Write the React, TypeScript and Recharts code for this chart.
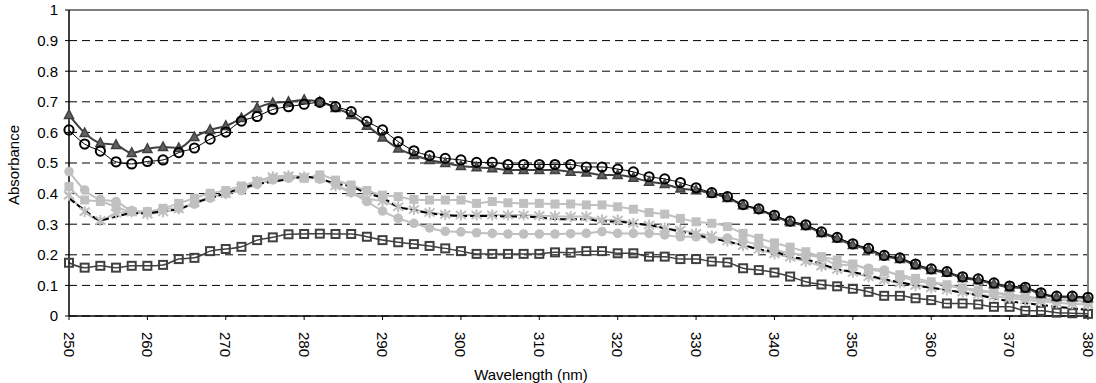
import { CartesianGrid, Line, LineChart, ReferenceLine, XAxis, YAxis } from "recharts";

const wavelengths = [
  250, 252, 254, 256, 258, 260, 262, 264, 266, 268, 270, 272, 274, 276, 278, 280, 282, 284, 286, 288, 290, 292,
  294, 296, 298, 300, 302, 304, 306, 308, 310, 312, 314, 316, 318, 320, 322, 324, 326, 328, 330, 332, 334, 336,
  338, 340, 342, 344, 346, 348, 350, 352, 354, 356, 358, 360, 362, 364, 366, 368, 370, 372, 374, 376, 378, 380,
];

// black open circles
const openCircles = [
  0.608, 0.562, 0.539, 0.504, 0.497, 0.505, 0.51, 0.534, 0.549, 0.578,
  0.601, 0.637, 0.652, 0.675, 0.684, 0.692, 0.698, 0.684, 0.668, 0.636,
  0.608, 0.57, 0.54, 0.524, 0.515, 0.51, 0.502, 0.502, 0.495, 0.495,
  0.495, 0.495, 0.495, 0.487, 0.487, 0.48, 0.471, 0.455, 0.448, 0.436,
  0.419, 0.403, 0.39, 0.364, 0.35, 0.329, 0.31, 0.298, 0.275, 0.257,
  0.236, 0.221, 0.198, 0.19, 0.17, 0.154, 0.145, 0.128, 0.121, 0.108,
  0.098, 0.094, 0.076, 0.065, 0.065, 0.061,
];

// dark grey triangles
const triangles = [
  0.657, 0.598, 0.565, 0.559, 0.533, 0.546, 0.552, 0.549, 0.585, 0.608,
  0.621, 0.647, 0.68, 0.696, 0.7, 0.706, 0.7, 0.68, 0.657, 0.622,
  0.583, 0.547, 0.526, 0.51, 0.5, 0.49, 0.486, 0.483, 0.477, 0.477,
  0.477, 0.477, 0.471, 0.469, 0.461, 0.461, 0.452, 0.439, 0.431, 0.417,
  0.411, 0.4, 0.386, 0.362, 0.348, 0.326, 0.306, 0.294, 0.271, 0.253,
  0.232, 0.217, 0.195, 0.186, 0.166, 0.15, 0.141, 0.124, 0.117, 0.104,
  0.094, 0.09, 0.072, 0.062, 0.061, 0.058,
];

// light grey filled circles
const greyCircles = [
  0.472, 0.412, 0.381, 0.374, 0.345, 0.341, 0.35, 0.352, 0.366, 0.385,
  0.4, 0.41, 0.43, 0.445, 0.45, 0.452, 0.447, 0.43, 0.403, 0.374,
  0.343, 0.319, 0.303, 0.288, 0.277, 0.275, 0.272, 0.27, 0.268, 0.268,
  0.268, 0.268, 0.269, 0.27, 0.276, 0.27, 0.27, 0.27, 0.265, 0.259,
  0.259, 0.252, 0.255, 0.245, 0.232, 0.216, 0.205, 0.199, 0.19, 0.168,
  0.166, 0.156, 0.15, 0.13, 0.115, 0.107, 0.1, 0.09, 0.08, 0.076,
  0.065, 0.06, 0.055, 0.052, 0.052, 0.047,
];

// light grey filled squares
const greySquares = [
  0.423, 0.379, 0.374, 0.357, 0.341, 0.341, 0.352, 0.368, 0.385, 0.401,
  0.41, 0.425, 0.44, 0.45, 0.455, 0.45, 0.461, 0.444, 0.428, 0.41,
  0.395, 0.39, 0.381, 0.379, 0.379, 0.379, 0.368, 0.374, 0.37, 0.368,
  0.368, 0.366, 0.366, 0.363, 0.363, 0.357, 0.349, 0.338, 0.333, 0.319,
  0.308, 0.303, 0.292, 0.27, 0.254, 0.239, 0.225, 0.21, 0.194, 0.183,
  0.17, 0.152, 0.145, 0.135, 0.123, 0.112, 0.102, 0.092, 0.085, 0.078,
  0.07, 0.064, 0.058, 0.053, 0.05, 0.045,
];

// light grey asterisks
const greyStars = [
  0.395, 0.341, 0.312, 0.336, 0.34, 0.333, 0.34, 0.35, 0.37, 0.39,
  0.4, 0.42, 0.44, 0.455, 0.458, 0.455, 0.45, 0.425, 0.405, 0.384,
  0.375, 0.357, 0.348, 0.338, 0.332, 0.33, 0.33, 0.33, 0.33, 0.33,
  0.328, 0.326, 0.325, 0.325, 0.314, 0.314, 0.303, 0.297, 0.287, 0.281,
  0.27, 0.262, 0.245, 0.23, 0.218, 0.203, 0.192, 0.178, 0.163, 0.152,
  0.142, 0.128, 0.118, 0.108, 0.1, 0.092, 0.085, 0.078, 0.07, 0.065,
  0.058, 0.052, 0.048, 0.043, 0.04, 0.038,
];

// black dashed line, no markers
const dashed = [
  0.385, 0.346, 0.314, 0.325, 0.335, 0.336, 0.343, 0.349, 0.37, 0.385,
  0.401, 0.417, 0.431, 0.439, 0.447, 0.455, 0.448, 0.433, 0.423, 0.401,
  0.386, 0.357, 0.346, 0.336, 0.33, 0.327, 0.327, 0.327, 0.325, 0.325,
  0.322, 0.317, 0.316, 0.316, 0.309, 0.308, 0.303, 0.297, 0.287, 0.276,
  0.265, 0.254, 0.243, 0.232, 0.218, 0.21, 0.194, 0.185, 0.17, 0.153,
  0.144, 0.132, 0.12, 0.11, 0.1, 0.092, 0.085, 0.076, 0.068, 0.058,
  0.048, 0.042, 0.036, 0.03, 0.025, 0.02,
];

// dark grey open squares
const openSquares = [
  0.174, 0.158, 0.164, 0.158, 0.164, 0.164, 0.167, 0.186, 0.19, 0.212,
  0.219, 0.226, 0.248, 0.257, 0.267, 0.268, 0.269, 0.268, 0.268, 0.259,
  0.248, 0.241, 0.235, 0.229, 0.221, 0.212, 0.203, 0.203, 0.203, 0.203,
  0.203, 0.208, 0.207, 0.212, 0.212, 0.205, 0.205, 0.194, 0.194, 0.186,
  0.186, 0.178, 0.175, 0.156, 0.15, 0.142, 0.129, 0.112, 0.103, 0.097,
  0.089, 0.079, 0.066, 0.066, 0.058, 0.052, 0.041, 0.041, 0.038, 0.03,
  0.03, 0.017, 0.017, 0.011, 0.009, 0.007,
];

const xTicks = [250, 260, 270, 280, 290, 300, 310, 320, 330, 340, 350, 360, 370, 380];
const yTicks = [0, 0.1, 0.2, 0.3, 0.4, 0.5, 0.6, 0.7, 0.8, 0.9, 1];

const data = wavelengths.map((w, i) => ({
  w,
  openCircles: openCircles[i],
  triangles: triangles[i],
  greyCircles: greyCircles[i],
  greySquares: greySquares[i],
  greyStars: greyStars[i],
  dashed: dashed[i],
  openSquares: openSquares[i],
}));

const FONT = "'Liberation Sans', Arial, sans-serif";
const DARK = "#404040";
const GREY = "#c0c0c0";

const openCircleDot = (p: any) => (
  <circle key={p.index} cx={p.cx} cy={p.cy} r={4.6} fill="none" stroke="#000" strokeWidth={2} />
);
const triangleDot = (p: any) => (
  <polygon
    key={p.index}
    points={`${p.cx},${p.cy - 5} ${p.cx + 4.5},${p.cy + 3.5} ${p.cx - 4.5},${p.cy + 3.5}`}
    fill="#606060"
    stroke={DARK}
    strokeWidth={1.5}
  />
);
const greyCircleDot = (p: any) => <circle key={p.index} cx={p.cx} cy={p.cy} r={4.8} fill={GREY} />;
const greySquareDot = (p: any) => (
  <rect key={p.index} x={p.cx - 4.5} y={p.cy - 4.5} width={9} height={9} fill={GREY} />
);
const starDot = (p: any) => (
  <g key={p.index} stroke={GREY} strokeWidth={2}>
    <line x1={p.cx} y1={p.cy - 5.5} x2={p.cx} y2={p.cy + 5.5} />
    <line x1={p.cx - 5} y1={p.cy - 4} x2={p.cx + 5} y2={p.cy + 4} />
    <line x1={p.cx - 5} y1={p.cy + 4} x2={p.cx + 5} y2={p.cy - 4} />
  </g>
);
const openSquareDot = (p: any) => (
  <rect key={p.index} x={p.cx - 4} y={p.cy - 4} width={8} height={8} fill="none" stroke={DARK} strokeWidth={2} />
);

const XTick = ({ x, y, payload }: any) => (
  <text
    transform={`translate(${x},${y + 10}) rotate(90)`}
    textAnchor="start"
    dominantBaseline="central"
    fontFamily={FONT}
    fontSize={15}
    fill="#000"
  >
    {payload.value}
  </text>
);

export default function App() {
  return (
    <div style={{ position: "absolute", left: 0, top: 0, background: "#fff" }}>
      <LineChart width={1096} height={383} data={data} margin={{ top: 10, right: 8, bottom: 0, left: 0 }}>
        <CartesianGrid vertical={false} stroke="#000" strokeDasharray="8 5" />
        <XAxis
          dataKey="w"
          type="number"
          domain={[250, 380]}
          ticks={xTicks}
          interval={0}
          height={67}
          tick={<XTick />}
          tickSize={4}
          tickLine={{ stroke: "#000" }}
          axisLine={{ stroke: "#000", strokeWidth: 1.5 }}
          label={{
            content: () => (
              <text x={531} y={380} textAnchor="middle" fontFamily={FONT} fontSize={15} fill="#000">
                Wavelength (nm)
              </text>
            ),
          }}
        />
        <YAxis
          type="number"
          domain={[0, 1]}
          ticks={yTicks}
          interval={0}
          width={69}
          tickSize={4}
          tickMargin={7}
          tick={{ fill: "#000", fontSize: 15, fontFamily: FONT }}
          tickLine={{ stroke: "#000" }}
          axisLine={{ stroke: "#000", strokeWidth: 1.5 }}
          label={{
            content: () => (
              <text
                x={13}
                y={165}
                transform="rotate(-90 13 165)"
                textAnchor="middle"
                dominantBaseline="central"
                fontFamily={FONT}
                fontSize={15}
                fill="#000"
              >
                Absorbance
              </text>
            ),
          }}
        />
        <ReferenceLine y={1} stroke="#808080" strokeWidth={2} />
        <ReferenceLine x={380} stroke="#808080" strokeWidth={2} />
        <Line type="monotone" dataKey="openSquares" stroke={DARK} strokeWidth={1.5} dot={openSquareDot} activeDot={false} isAnimationActive={false} />
        <Line type="monotone" dataKey="greyCircles" stroke={GREY} strokeWidth={2} dot={greyCircleDot} activeDot={false} isAnimationActive={false} />
        <Line type="monotone" dataKey="greySquares" stroke={GREY} strokeWidth={2} dot={greySquareDot} activeDot={false} isAnimationActive={false} />
        <Line type="monotone" dataKey="greyStars" stroke={GREY} strokeWidth={2} dot={starDot} activeDot={false} isAnimationActive={false} />
        <Line type="monotone" dataKey="dashed" stroke="#000" strokeWidth={2} strokeDasharray="7 3" dot={false} activeDot={false} isAnimationActive={false} />
        <Line type="monotone" dataKey="triangles" stroke={DARK} strokeWidth={2} dot={triangleDot} activeDot={false} isAnimationActive={false} />
        <Line type="monotone" dataKey="openCircles" stroke="#000" strokeWidth={1} dot={openCircleDot} activeDot={false} isAnimationActive={false} />
      </LineChart>
    </div>
  );
}
